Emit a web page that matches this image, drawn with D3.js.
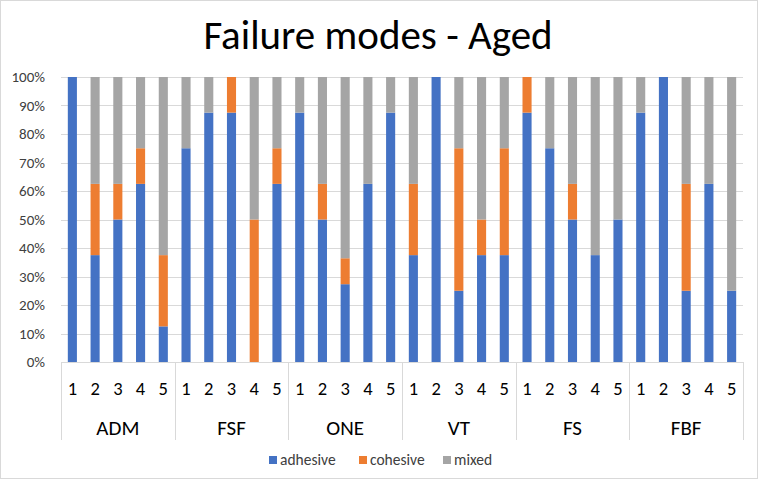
<!DOCTYPE html>
<html>
<head>
<meta charset="utf-8">
<script src="https://cdn.jsdelivr.net/npm/d3@7"></script>
<style>
  html, body { margin: 0; padding: 0; background: #fff; }
  svg { display: block; font-family: Calibri, Carlito, Lato, "Liberation Sans", Arial, sans-serif; }
</style>
</head>
<body>
<svg id="chart" width="758" height="480"></svg>
<script>
// Chart data (percent of specimens per failure mode)
const groups = ['ADM', 'FSF', 'ONE', 'VT', 'FS', 'FBF'];
const samples = ['1', '2', '3', '4', '5'];
const adhesive = [100, 37.5, 50, 62.5, 12.5, 75, 87.5, 87.5, 0, 62.5, 87.5, 50, 27.3, 62.5, 87.5,
  37.5, 100, 25, 37.5, 37.5, 87.5, 75, 50, 37.5, 50, 87.5, 100, 25, 62.5, 25];
const cohesive = [0, 25, 12.5, 12.5, 25, 0, 0, 12.5, 50, 12.5, 0, 12.5, 9.1, 0, 0,
  25, 0, 50, 12.5, 37.5, 12.5, 0, 12.5, 0, 0, 0, 0, 37.5, 0, 0];
const mixed = [0, 37.5, 37.5, 25, 62.5, 25, 12.5, 0, 50, 25, 12.5, 37.5, 63.6, 37.5, 12.5,
  37.5, 0, 25, 50, 25, 0, 25, 37.5, 62.5, 50, 12.5, 0, 37.5, 37.5, 75];
const yTicks = [0, 10, 20, 30, 40, 50, 60, 70, 80, 90, 100];
const seriesNames = ['adhesive', 'cohesive', 'mixed'];
const colors = ['#4472C4', '#ED7D31', '#A5A5A5'];

const svg = d3.select('#chart');
const W = 758, H = 480;
const plot = { left: 61, right: 743, top: 77, bottom: 362 };

// outer border
svg.append('rect')
  .attr('x', 0.5).attr('y', 0.5)
  .attr('width', W - 1).attr('height', H - 2)
  .attr('fill', '#fff').attr('stroke', '#d9d9d9');

// title
svg.append('text')
  .attr('x', 378).attr('y', 49)
  .attr('text-anchor', 'middle')
  .attr('font-size', 41)
  .attr('fill', '#000')
  .text('Failure modes - Aged');

const rows = d3.range(groups.length * samples.length).map((i) => ({
  group: groups[Math.floor(i / samples.length)],
  sample: samples[i % samples.length],
  adhesive: adhesive[i],
  cohesive: cohesive[i],
  mixed: mixed[i]
}));

const x0 = d3.scaleBand().domain(groups).range([plot.left, plot.right]);
const x1 = d3.scaleBand().domain(samples).range([0, x0.bandwidth()])
  .paddingInner(0.6).paddingOuter(0.3);
const y = d3.scaleLinear().domain([0, 100]).range([plot.bottom, plot.top]);

// gridlines
svg.append('g')
  .selectAll('line')
  .data(yTicks)
  .join('line')
  .attr('x1', plot.left).attr('x2', plot.right)
  .attr('y1', (d) => Math.round(y(d)) + 0.5)
  .attr('y2', (d) => Math.round(y(d)) + 0.5)
  .attr('stroke', '#d9d9d9').attr('stroke-width', 1);

// y axis labels
svg.append('g')
  .selectAll('text')
  .data(yTicks)
  .join('text')
  .attr('x', 45)
  .attr('y', (d) => y(d))
  .attr('dy', '0.35em')
  .attr('text-anchor', 'end')
  .attr('font-size', 15)
  .attr('fill', '#404040')
  .text((d) => d + '%');

// stacked bars
const stack = d3.stack().keys(seriesNames)(rows);
svg.append('g')
  .selectAll('g')
  .data(stack)
  .join('g')
  .attr('fill', (d, i) => colors[i])
  .selectAll('rect')
  .data((d) => d)
  .join('rect')
  .attr('x', (d) => x0(d.data.group) + x1(d.data.sample))
  .attr('width', x1.bandwidth())
  .attr('y', (d) => y(d[1]))
  .attr('height', (d) => y(d[0]) - y(d[1]));

// category axis: sample numbers + group labels with separators
const axis = svg.append('g');
const sepX = groups.map((g) => x0(g)).concat([plot.right]);
axis.selectAll('line.sep')
  .data(sepX)
  .join('line')
  .attr('class', 'sep')
  .attr('x1', (d) => Math.round(d) + 0.5).attr('x2', (d) => Math.round(d) + 0.5)
  .attr('y1', plot.bottom).attr('y2', 440)
  .attr('stroke', '#d9d9d9');

axis.selectAll('text.sample')
  .data(rows)
  .join('text')
  .attr('class', 'sample')
  .attr('x', (d) => x0(d.group) + x1(d.sample) + x1.bandwidth() / 2)
  .attr('y', 395)
  .attr('text-anchor', 'middle')
  .attr('font-size', 18.5)
  .attr('fill', '#000')
  .text((d) => d.sample);

axis.selectAll('text.group')
  .data(groups)
  .join('text')
  .attr('class', 'group')
  .attr('x', (d) => x0(d) + x0.bandwidth() / 2)
  .attr('y', 435)
  .attr('text-anchor', 'middle')
  .attr('font-size', 21)
  .attr('fill', '#000')
  .text((d) => d);

// legend
const legendX = [269, 359, 443];
const legend = svg.append('g')
  .selectAll('g')
  .data(seriesNames)
  .join('g')
  .attr('transform', (d, i) => `translate(${legendX[i]},460)`);
legend.append('rect')
  .attr('x', 0).attr('y', -4)
  .attr('width', 8).attr('height', 8)
  .attr('fill', (d, i) => colors[i]);
legend.append('text')
  .attr('x', 11).attr('y', 0)
  .attr('dy', '0.35em')
  .attr('font-size', 15.5)
  .attr('fill', '#404040')
  .text((d) => d);
</script>
</body>
</html>
